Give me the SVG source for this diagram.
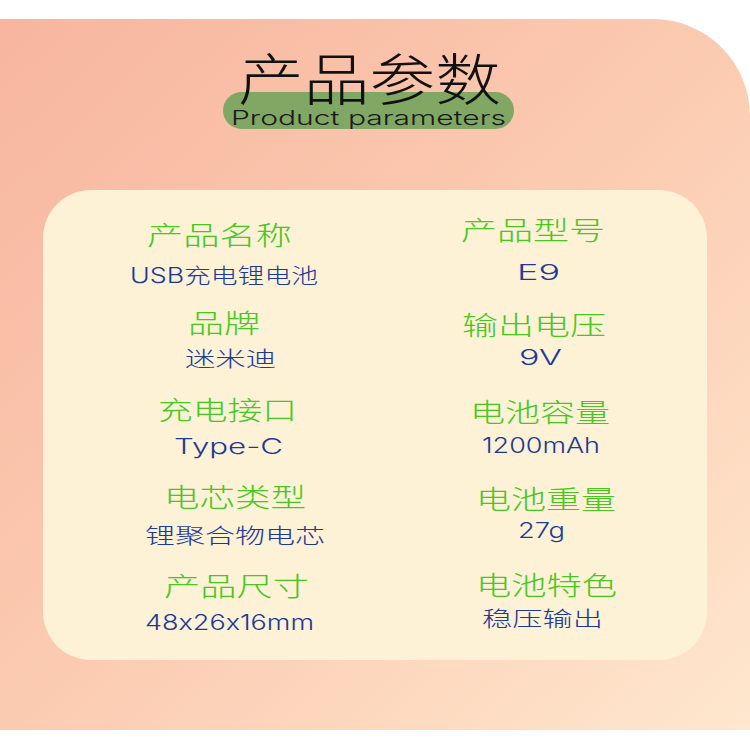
<svg xmlns="http://www.w3.org/2000/svg" width="750" height="743" viewBox="0 0 750 743">
<defs>
<linearGradient id="bg" x1="0" y1="0" x2="1" y2="1">
<stop offset="0" stop-color="#f7b59f"/>
<stop offset="0.5" stop-color="#fbcbb1"/>
<stop offset="1" stop-color="#fee7ce"/>
</linearGradient>
<style>
.t{font-family:"Noto Sans CJK SC","Noto Sans",sans-serif;font-size:56px;font-weight:300;fill:#111}
.en{font-family:"Inter","Liberation Sans",sans-serif;font-size:20px;font-weight:300;fill:#1a1a1a}
.lb{font-family:"Noto Sans CJK SC","Noto Sans",sans-serif;font-size:26px;font-weight:300;fill:#46c81e}
.v{font-family:"Inter","Liberation Sans","Noto Sans CJK SC",sans-serif;font-size:21px;font-weight:300;fill:#1b3a9a;font-feature-settings:"calt" 0}
</style>
</defs>
<rect width="750" height="743" fill="#ffffff"/>
<path d="M0,19 H653 A97,97 0 0 1 750,116 V730 H0 Z" fill="url(#bg)"/>
<g id="title">
<rect x="223" y="92" width="291" height="37" rx="18.5" fill="#80a864"/>
<text class="t" x="238" y="100" textLength="263" lengthAdjust="spacingAndGlyphs">产品参数</text>
<text class="en" x="231" y="125" textLength="275" lengthAdjust="spacingAndGlyphs">Product parameters</text>
</g>
<rect id="panel" x="43" y="190" width="664" height="470" rx="48" fill="#fdf1d6"/>
<g id="connectors"/>
<g id="p-name">
<text class="lb" x="147" y="245" textLength="145" lengthAdjust="spacingAndGlyphs">产品名称</text>
<text class="v" x="130" y="283" textLength="188" lengthAdjust="spacingAndGlyphs">USB充电锂电池</text>
</g>
<g id="p-brand">
<text class="lb" x="188" y="333" textLength="72" lengthAdjust="spacingAndGlyphs">品牌</text>
<text class="v" x="185" y="366" textLength="91" lengthAdjust="spacingAndGlyphs">迷米迪</text>
</g>
<g id="p-port">
<text class="lb" x="158" y="420" textLength="139" lengthAdjust="spacingAndGlyphs">充电接口</text>
<text class="v" x="174" y="454" font-size="22" textLength="109" lengthAdjust="spacingAndGlyphs">Type-C</text>
</g>
<g id="p-cell">
<text class="lb" x="164" y="507" textLength="142" lengthAdjust="spacingAndGlyphs">电芯类型</text>
<text class="v" x="145" y="543" textLength="180" lengthAdjust="spacingAndGlyphs">锂聚合物电芯</text>
</g>
<g id="p-size">
<text class="lb" x="164" y="596" textLength="145" lengthAdjust="spacingAndGlyphs">产品尺寸</text>
<text class="v" x="145" y="630" font-size="22" textLength="169" lengthAdjust="spacingAndGlyphs">48x26x16mm</text>
</g>
<g id="p-model">
<text class="lb" x="461" y="240" textLength="144" lengthAdjust="spacingAndGlyphs">产品型号</text>
<text class="v" x="517" y="280" font-size="28" textLength="43" lengthAdjust="spacingAndGlyphs">E9</text>
</g>
<g id="p-voltage">
<text class="lb" x="462" y="335" textLength="144" lengthAdjust="spacingAndGlyphs">输出电压</text>
<text class="v" x="519" y="365" font-size="29" textLength="43" lengthAdjust="spacingAndGlyphs">9V</text>
</g>
<g id="p-capacity">
<text class="lb" x="470" y="422" textLength="140" lengthAdjust="spacingAndGlyphs">电池容量</text>
<text class="v" x="482" y="453" textLength="118" lengthAdjust="spacingAndGlyphs">1200mAh</text>
</g>
<g id="p-weight">
<text class="lb" x="476" y="509" textLength="140" lengthAdjust="spacingAndGlyphs">电池重量</text>
<text class="v" x="518" y="538" textLength="47" lengthAdjust="spacingAndGlyphs">27g</text>
</g>
<g id="p-feature">
<text class="lb" x="476" y="595" textLength="141" lengthAdjust="spacingAndGlyphs">电池特色</text>
<text class="v" x="482" y="626" textLength="121" lengthAdjust="spacingAndGlyphs">稳压输出</text>
</g>
</svg>
